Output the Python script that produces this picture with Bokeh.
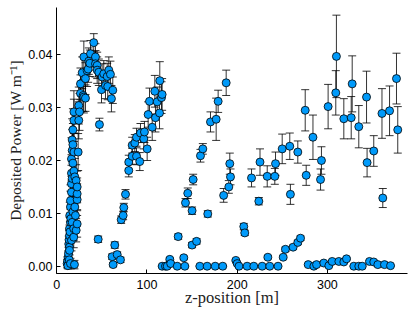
from bokeh.plotting import figure
from bokeh.models import ColumnDataSource, Whisker, TeeHead, FixedTicker, Range1d
from bokeh.embed import file_html
from bokeh.resources import INLINE

# ---- data ----
# first peak (z ~ 11-63 m)
z_peak1 = [11.5, 12.0, 12.3, 12.6, 13.0, 13.3, 13.6, 13.8, 14.0, 14.1, 14.1, 14.1, 14.4, 14.6,
           15.2, 15.2, 15.2, 15.2, 15.6, 16.3, 16.3, 16.3, 16.3, 16.3, 17.1, 17.1, 17.1, 17.1,
           17.9, 17.9, 17.9, 17.9, 18.8, 18.8, 19.0, 19.0, 19.0, 19.0, 19.6, 20.0, 20.0, 20.7,
           21.5, 21.5, 22.6, 22.6, 22.6, 22.6, 23.7, 24.4, 24.4, 25.2, 26.3, 26.3, 28.2, 29.3,
           30.0, 30.0, 31.8, 31.8, 33.6, 34.8, 35.5, 36.6, 37.4, 41.0, 42.9, 42.9, 44.8, 44.8,
           46.6, 47.3, 45.9, 49.6, 50.3, 52.1, 54.0, 55.9, 56.5, 57.7, 59.5, 60.6, 62.1]
p_peak1 = [0.0005, 0.0010, 0.0001, 0.0017, 0.0024, 0.0042, 0.0050, 0.0012, 0.0036, 0.0030, 0.0058, 0.0071, 0.0096, 0.0065,
           0.0005, 0.0083, 0.0112, 0.0124, 0.0090, 0.0049, 0.0140, 0.0156, 0.0176, 0.0203, 0.0083, 0.0166, 0.0219, 0.0239,
           0.0103, 0.0195, 0.0230, 0.0258, 0.0055, 0.0071, 0.0180, 0.0216, 0.0276, 0.0292, 0.0003, 0.0112, 0.0169, 0.0096,
           0.0068, 0.0162, 0.0080, 0.0126, 0.0137, 0.0150, 0.0216, 0.0276, 0.0304, 0.0292, 0.0327, 0.0345, 0.0366, 0.0323,
           0.0396, 0.0320, 0.0355, 0.0318, 0.0370, 0.0373, 0.0388, 0.0384, 0.0402, 0.0423, 0.0396, 0.0383, 0.0380, 0.0371,
           0.0367, 0.0268, 0.0051, 0.0334, 0.0358, 0.0364, 0.0342, 0.0359, 0.0340, 0.0371, 0.0363, 0.0317, 0.0333]
e_peak1 = [0.0008, 0.0008, 0.0006, 0.0012, 0.0012, 0.0015, 0.0018, 0.0010, 0.0015, 0.0018, 0.0020, 0.0022, 0.0025, 0.0020,
           0.0010, 0.0025, 0.0030, 0.0030, 0.0025, 0.0020, 0.0030, 0.0035, 0.0035, 0.0040, 0.0025, 0.0035, 0.0040, 0.0040,
           0.0030, 0.0035, 0.0040, 0.0040, 0.0020, 0.0022, 0.0035, 0.0035, 0.0040, 0.0040, 0.0008, 0.0030, 0.0035, 0.0025,
           0.0022, 0.0030, 0.0025, 0.0030, 0.0030, 0.0030, 0.0035, 0.0035, 0.0035, 0.0035, 0.0035, 0.0030, 0.0030, 0.0030,
           0.0030, 0.0030, 0.0030, 0.0025, 0.0030, 0.0025, 0.0025, 0.0025, 0.0025, 0.0017, 0.0025, 0.0025, 0.0025, 0.0025,
           0.0025, 0.0012, 0.0006, 0.0025, 0.0025, 0.0025, 0.0025, 0.0025, 0.0025, 0.0025, 0.0025, 0.0025, 0.0025]

# second rise (z ~ 61-117 m)
z_peak2 = [61.4, 62.5, 64.3, 67.0, 70.6, 71.4, 73.6, 74.3, 76.2, 79.8, 79.8, 83.6, 83.6, 86.5, 88.4,
           88.4, 92.0, 92.8, 96.5, 97.2, 100.2, 101.3, 102.8, 105.8, 108.7, 109.4, 111.3, 113.9,
           114.2, 116.1, 116.8]
p_peak2 = [0.0018, 0.0003, 0.0040, 0.0022, 0.0012, 0.0088, 0.0096, 0.0111, 0.0136, 0.0181, 0.0197, 0.0208, 0.0229, 0.0233, 0.0244,
           0.0208, 0.0198, 0.0252, 0.0241, 0.0254, 0.0222, 0.0287, 0.0312, 0.0263, 0.0331, 0.0281, 0.0311, 0.0290,
           0.0351, 0.0319, 0.0325]
e_peak2 = [0.0005, 0.0004, 0.0006, 0.0005, 0.0005, 0.0007, 0.0008, 0.0008, 0.0009, 0.0012, 0.0013, 0.0015, 0.0015, 0.0016, 0.0017,
           0.0016, 0.0017, 0.0018, 0.0019, 0.0020, 0.0022, 0.0024, 0.0025, 0.0025, 0.0030, 0.0027, 0.0028, 0.0030,
           0.0036, 0.0030, 0.0030]

# third rise (z ~ 117-190 m)
z_peak3 = [116.8, 120.5, 122.4, 125.3, 126.3, 133.5, 134.6, 140.8, 142.0, 142.7, 145.2, 150.0, 150.0,
           151.2, 155.0, 158.6, 159.3, 161.9, 166.7, 167.4, 170.4, 175.6, 176.7, 178.9, 184.0, 187.8]
p_peak3 = [0.0000, 0.0000, 0.0000, 0.0013, 0.0005, 0.0000, 0.0056, 0.0016, 0.0000, 0.0120, 0.0138, 0.0105, 0.0040,
           0.0164, 0.0047, 0.0000, 0.0209, 0.0222, 0.0000, 0.0099, 0.0273, 0.0000, 0.0278, 0.0312, 0.0000, 0.0347]
e_peak3 = [0.0001, 0.0001, 0.0001, 0.0003, 0.0002, 0.0001, 0.0005, 0.0003, 0.0001, 0.0008, 0.0010, 0.0007, 0.0005,
           0.0010, 0.0005, 0.0001, 0.0012, 0.0010, 0.0001, 0.0006, 0.0019, 0.0001, 0.0040, 0.0021, 0.0001, 0.0024]

# fourth rise (z ~ 185-280 m)
z_peak4 = [185.0, 190.7, 191.8, 192.6, 198.5, 200.0, 202.0, 207.3, 208.4, 211.0, 215.9, 218.4, 224.0,
           225.3, 227.7, 233.3, 234.0, 236.1, 241.7, 242.5, 245.3, 249.9, 251.0, 253.5, 258.3, 259.0,
           262.0, 267.2, 267.2, 270.2, 276.5]
p_peak4 = [0.0134, 0.0150, 0.0194, 0.0169, 0.0011, 0.0005, 0.0000, 0.0075, 0.0063, 0.0000, 0.0167, 0.0000, 0.0123,
           0.0197, 0.0000, 0.0170, 0.0017, 0.0000, 0.0170, 0.0194, 0.0000, 0.0222, 0.0017, 0.0032, 0.0227, 0.0136,
           0.0036, 0.0216, 0.0045, 0.0053, 0.0172]
e_peak4 = [0.0013, 0.0012, 0.0020, 0.0015, 0.0002, 0.0002, 0.0001, 0.0006, 0.0005, 0.0001, 0.0017, 0.0001, 0.0007,
           0.0025, 0.0001, 0.0020, 0.0003, 0.0001, 0.0015, 0.0022, 0.0001, 0.0028, 0.0003, 0.0004, 0.0025, 0.0019,
           0.0004, 0.0021, 0.0004, 0.0004, 0.0019]

# fifth rise (z ~ 275-380 m)
z_peak5 = [275.4, 278.7, 284.0, 285.0, 288.0, 292.4, 293.4, 296.0, 300.8, 301.6, 305.3, 309.3, 310.0,
           312.7, 318.2, 318.2, 321.2, 326.4, 327.5, 329.3, 334.8, 334.8, 338.6, 343.4, 344.0, 346.7,
           351.4, 351.4, 355.9, 360.5, 361.4, 363.3, 368.9, 370.0, 376.6, 378.0]
p_peak5 = [0.0295, 0.0003, 0.0244, 0.0000, 0.0003, 0.0164, 0.0200, 0.0006, 0.0302, 0.0001, 0.0009, 0.0328, 0.0397,
           0.0009, 0.0279, 0.0008, 0.0014, 0.0281, 0.0345, 0.0000, 0.0264, 0.0000, 0.0000, 0.0320, 0.0196, 0.0009,
           0.0218, 0.0008, 0.0003, 0.0289, 0.0129, 0.0003, 0.0294, 0.0001, 0.0355, 0.0258]
e_peak5 = [0.0039, 0.0002, 0.0042, 0.0001, 0.0002, 0.0020, 0.0026, 0.0002, 0.0042, 0.0001, 0.0002, 0.0042, 0.0078,
           0.0002, 0.0038, 0.0002, 0.0002, 0.0040, 0.0053, 0.0001, 0.0040, 0.0001, 0.0001, 0.0049, 0.0027, 0.0002,
           0.0029, 0.0002, 0.0002, 0.0047, 0.0018, 0.0002, 0.0047, 0.0001, 0.0048, 0.0044]

x_ticks = [0, 100, 200, 300]
y_ticks = [0.0, 0.01, 0.02, 0.03, 0.04]
y_tick_labels = ["0.00", "0.01", "0.02", "0.03", "0.04"]

x_label = "z-position [m]"
y_label = "Deposited Power [W m\u207b\u00b9]"

# ---- build ----
z_all = z_peak1 + z_peak2 + z_peak3 + z_peak4 + z_peak5
p_all = p_peak1 + p_peak2 + p_peak3 + p_peak4 + p_peak5
e_all = e_peak1 + e_peak2 + e_peak3 + e_peak4 + e_peak5

src = ColumnDataSource(dict(
    z=z_all, p=p_all,
    upper=[a + b for a, b in zip(p_all, e_all)],
    lower=[a - b for a, b in zip(p_all, e_all)],
))

p = figure(width=415, height=312, output_backend="svg", toolbar_location=None,
           x_range=Range1d(-0.3, 388.8), y_range=Range1d(-0.00138, 0.04895),
           min_border_left=56, min_border_right=8, min_border_top=7, min_border_bottom=39)
p.outline_line_color = None
p.grid.visible = False
p.background_fill_color = "white"
p.border_fill_color = "white"

head_kw = dict(size=8, line_color="black", line_width=1, line_alpha=0.8)
w = Whisker(source=src, base="z", upper="upper", lower="lower", dimension="height",
            line_color="black", line_width=1, line_alpha=0.8,
            upper_head=TeeHead(**head_kw), lower_head=TeeHead(**head_kw))
w.level = "underlay"
p.add_layout(w)

p.scatter("z", "p", source=src, size=8, fill_color="#009AFA", line_color="black", line_width=0.8)

for ax in (p.xaxis[0], p.yaxis[0]):
    ax.major_tick_in = 4
    ax.major_tick_out = 0
    ax.minor_tick_line_color = None
    ax.axis_line_color = "black"
    ax.major_tick_line_color = "black"
    ax.major_label_text_font = "Liberation Sans"
    ax.major_label_text_font_size = "12.5px"
    ax.major_label_text_color = "black"
    ax.axis_label_text_font = "Liberation Serif"
    ax.axis_label_text_font_style = "normal"
    ax.axis_label_text_color = "#222222"

p.xaxis.axis_label_text_font_size = "16.5px"
p.yaxis.axis_label_text_font_size = "15.5px"
p.xaxis.ticker = FixedTicker(ticks=x_ticks)
p.yaxis.ticker = FixedTicker(ticks=y_ticks)
p.yaxis.major_label_overrides = {t: l for t, l in zip(y_ticks, y_tick_labels)}
p.xaxis.axis_label = x_label
p.yaxis.axis_label = y_label
p.xaxis.major_label_standoff = 6
p.yaxis.major_label_standoff = 4
p.xaxis.axis_label_standoff = -4
p.yaxis.axis_label_standoff = 1

open("out.html", "w").write(file_html(p, INLINE))
